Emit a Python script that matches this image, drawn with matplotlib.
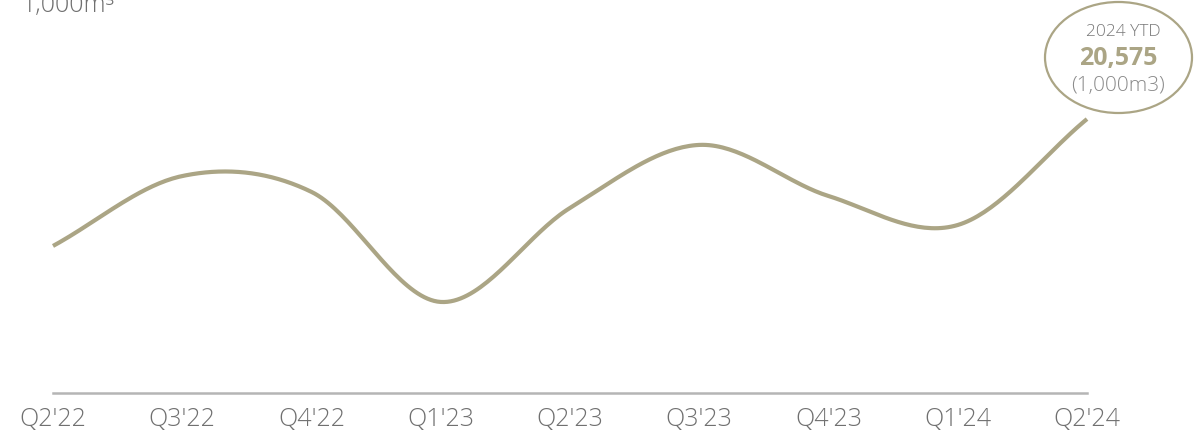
import matplotlib
matplotlib.use("Agg")
import matplotlib.pyplot as plt
from matplotlib.patches import Ellipse
import numpy as np

plt.rcParams["font.family"] = ["Open Sans", "DejaVu Sans"]

# quarterly volume, 1,000 m3
QUARTERS = ["Q2'22", "Q3'22", "Q4'22", "Q1'23", "Q2'23", "Q3'23", "Q4'23", "Q1'24", "Q2'24"]
VOLUME = [8980, 13250, 12280, 5560, 11300, 15150, 12030, 10260, 16730]
YTD_LABEL = "2024 YTD"
YTD_VALUE = "20,575"
YTD_UNIT = "(1,000m3)"
UNIT_LABEL = "1,000m\u00b3"

LINE_C = "#aba585"
GREY = "#707070"


def catmull_rom(x, y, n=40):
    # uniform Catmull-Rom through every point
    x = np.asarray(x, float)
    y = np.asarray(y, float)
    px = np.concatenate([[2 * x[0] - x[1]], x, [2 * x[-1] - x[-2]]])
    py = np.concatenate([[2 * y[0] - y[1]], y, [2 * y[-1] - y[-2]]])
    xs, ys = [], []
    t = np.linspace(0, 1, n)
    for i in range(1, len(px) - 2):
        for p, out in ((px, xs), (py, ys)):
            p0, p1, p2, p3 = p[i - 1], p[i], p[i + 1], p[i + 2]
            out.append(0.5 * (2 * p1 + (-p0 + p2) * t
                              + (2 * p0 - 5 * p1 + 4 * p2 - p3) * t ** 2
                              + (-p0 + 3 * p1 - 3 * p2 + p3) * t ** 3))
    return np.concatenate(xs), np.concatenate(ys)


W, H = 1198, 433
fig = plt.figure(figsize=(W / 100, H / 100), dpi=100)
ax = fig.add_axes([53 / W, 1 - 393 / H, (1087 - 53) / W, 393 / H])

xi = np.arange(len(QUARTERS))
sx, sy = catmull_rom(xi, VOLUME)
ax.plot(sx, sy, color=LINE_C, lw=3, solid_capstyle="butt", clip_on=False)

ax.set_xlim(0, len(QUARTERS) - 1)
ax.set_ylim(0, 24000)
for s in ("top", "right", "left"):
    ax.spines[s].set_visible(False)
ax.spines["bottom"].set_color("#b5b5b5")
ax.spines["bottom"].set_linewidth(1.8)
ax.set_yticks([])
ax.set_xticks(xi)
ax.set_xticklabels(QUARTERS, fontsize=18, color=GREY, fontweight="light")
ax.tick_params(axis="x", length=0, pad=10)

fig.text(22 / W, 1 - 12 / H, UNIT_LABEL, fontsize=18, color=GREY,
         fontweight="light", va="baseline")

# YTD bubble
bx, by = 1118.5, 57.5
fig.add_artist(Ellipse((bx / W, 1 - by / H), 147 / W, 111 / H,
                       transform=fig.transFigure, fill=False,
                       edgecolor=LINE_C, lw=1.6))
fig.text(bx / W + 0.004, 1 - 32 / H, YTD_LABEL, fontsize=12.5, color="#787878",
         fontweight="light", ha="center", va="center")
fig.text(bx / W, 1 - 59 / H, YTD_VALUE, fontsize=18, color=LINE_C,
         fontweight="bold", ha="center", va="center")
fig.text(bx / W, 1 - 86 / H, YTD_UNIT, fontsize=15, color="#8a8a8a",
         fontweight="light", ha="center", va="center")

fig.savefig("out.png", dpi=100, facecolor="white")
